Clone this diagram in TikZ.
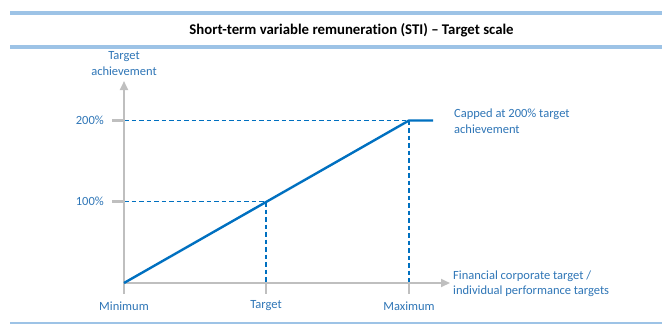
\documentclass[tikz,border=0pt]{standalone}
\usepackage{fontspec}
\setmainfont{Carlito}[Ligatures=NoCommon]
\usetikzlibrary{arrows.meta}
\definecolor{barblue}{HTML}{9DC3E6}
\definecolor{txtblue}{HTML}{2E75B6}
\definecolor{lineblue}{HTML}{0070C0}
\definecolor{axisgray}{HTML}{BFBFBF}
\tikzset{
  bar/.style={barblue, line width=4pt},
  axis/.style={axisgray, line width=2.2pt},
  axisarrow/.style={axis, -{Triangle[length=9pt,width=8pt]}},
  guide/.style={lineblue, line width=1.3pt, dash pattern=on 4.5pt off 3pt},
  curve/.style={lineblue, line width=2.4pt},
  lbl/.style={txtblue, font=\fontsize{12.5}{15.5}\selectfont, inner sep=0pt},
  ttl/.style={black, font=\fontsize{14.8}{17}\selectfont\bfseries, inner sep=0pt}
}
\begin{document}
\begin{tikzpicture}[x=1pt,y=-1pt]
\useasboundingbox (0,0) rectangle (662,324);
% frame bars
\coordinate (b1l) at (10,13); \coordinate (b1r) at (662,13);
\coordinate (b2l) at (10,47); \coordinate (b2r) at (662,47);
\coordinate (b3l) at (10,323.5); \coordinate (b3r) at (662,323.5);
\draw[bar] (b1l) -- (b1r);
\draw[bar] (b2l) -- (b2r);
\draw[bar] (b3l) -- (b3r);
\node[ttl] (title) at (351.5,30.5) {Short-term variable remuneration (STI) – Target scale};
% key points
\coordinate (O) at (124,283);
\coordinate (ytip) at (124,81);
\coordinate (xtip) at (450,283);
\coordinate (y200) at (124,120.5);
\coordinate (y100) at (124,201.5);
\coordinate (t200) at (112,120.5);
\coordinate (t100) at (112,201.5);
\coordinate (xtgt) at (266,283);
\coordinate (xmax) at (409,283);
\coordinate (btmin) at (124,294);
\coordinate (bttgt) at (266,294);
\coordinate (btmax) at (409,294);
\coordinate (P100) at (266,201.5);
\coordinate (P200) at (409,120.5);
\coordinate (capend) at (433,120.5);
% guides
\draw[guide] (y200) -- (P200) -- (xmax);
\draw[guide] (y100) -- (P100) -- (xtgt);
% axes
\draw[axisarrow] (O |- btmin) -- (ytip);
\draw[axisarrow] (O) -- (xtip);
\draw[axis] (t200) -- (y200);
\draw[axis] (t100) -- (y100);
\draw[axis] (xtgt) -- (bttgt);
\draw[axis] (xmax) -- (btmax);
% curve
\draw[curve] (O) -- (P200) -- (capend);
% labels
\node[lbl, align=center] (ylab) at (124,63.5) {Target\\achievement};
\node[lbl, anchor=east] (l200) at (104,120.5) {200\%};
\node[lbl, anchor=east] (l100) at (104,201.5) {100\%};
\node[lbl] (lmin) at (124,306) {Minimum};
\node[lbl] (ltgt) at (266,306) {Target};
\node[lbl] (lmax) at (409,306) {Maximum};
\node[lbl, align=left, anchor=west] (lcap) at (454,121) {Capped at 200\% target\\achievement};
\node[lbl, align=left, anchor=west] (lx) at (453,283.5) {Financial corporate target /\\individual performance targets};
\end{tikzpicture}
\end{document}
